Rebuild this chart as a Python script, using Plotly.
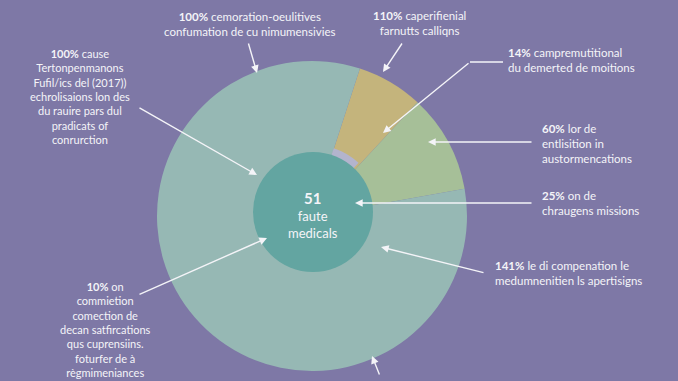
import plotly.graph_objects as go

W, H = 678, 381

# ---- data ----
slice_labels = ["caperifienial farnutts", "entlisition in austormencations", "faute medicals (autres)"]
slice_values = [6.9, 10.3, 82.8]
slice_colors = ["#c4b47c", "#a6bf98", "#96b8b4"]

center_value = 51
center_label = ["faute", "medicals"]

ring_values = [6.9, 10.3, 82.8]
ring_colors = ["#b3b4cd", "rgba(0,0,0,0)", "rgba(0,0,0,0)"]

label_texts = [
    "<b>100%</b> cemoration-oeulitives<br>confumation de cu nimumensivies",
    "<b>100%</b> cause<br>Tertonpenmanons<br>Fufil/ics del (2017))<br>echrolisaions lon des<br>du rauire pars dul<br>pradicats of<br>conrurction",
    "<b>110%</b> caperifienial<br>farnutts calliqns",
    "<b>14%</b> campremutitional<br>du demerted de moitions",
    "<b>60%</b> lor de<br>entlisition in<br>austormencations",
    "<b>25%</b> on de<br>chraugens missions",
    "<b>141%</b> le di compenation le<br>medumnenitien ls apertisigns",
    "<b>10%</b> on<br>commietion<br>comection de<br>decan satfircations<br>qus cuprensiins.<br>foturfer de à<br>règmimeniances",
]

# ---- layout config (pixel positions in the 678x381 canvas) ----
label_pos = [  # x, y_top, align, font size
    (250, 8, "center", 11.5),
    (80, 45, "center", 11),
    (419, 7, "center", 11.5),
    (506, 44, "left", 11.5),
    (540, 120, "left", 11.5),
    (540, 187, "left", 11.5),
    (493, 257, "left", 11.5),
    (105, 278, "center", 11),
]
arrows = [  # tail (x,y), head (x,y)
    ((248, 42), (257, 73)),
    ((138, 107), (257, 175)),
    ((403, 42), (383, 72)),
    ((470, 62), (383, 133)),
    ((533, 142), (428, 142)),
    ((533, 203), (355, 203)),
    ((485, 273), (381, 247)),
    ((138, 295), (267, 238)),
    ((380, 376), (372, 356)),
]


def px(x):
    return x / W


def py(y):
    return 1 - y / H


def dom(cx, cy, r):
    return dict(x=[px(cx - r), px(cx + r)], y=[py(cy + r), py(cy - r)])


FONT = "Lato, 'Open Sans', sans-serif"
TXT = "#f4f4f8"
BG = "#7e78a6"

fig = go.Figure()
fig.add_trace(go.Pie(
    labels=slice_labels, values=slice_values, sort=False, direction="clockwise",
    rotation=18, marker=dict(colors=slice_colors, line=dict(width=0)),
    textinfo="none", hoverinfo="label+percent", domain=dom(312, 216, 155),
    showlegend=False,
))
fig.add_trace(go.Pie(
    labels=slice_labels, values=ring_values, sort=False, direction="clockwise",
    rotation=18, hole=0.85, marker=dict(colors=ring_colors, line=dict(width=0)),
    textinfo="none", hoverinfo="skip", domain=dom(313, 212, 67),
    showlegend=False,
))
fig.add_trace(go.Pie(
    labels=[" ".join(center_label)], values=[center_value], sort=False,
    marker=dict(colors=["#63a5a1"], line=dict(width=0)),
    textinfo="none", hoverinfo="label+value", domain=dom(313, 212, 60),
    showlegend=False,
))

annotations = []
for t, (x, y, al, fs) in zip(label_texts, label_pos):
    annotations.append(dict(
        text=t, x=px(x), y=py(y), xref="paper", yref="paper",
        xanchor="center" if al == "center" else "left", yanchor="top",
        align=al, showarrow=False, font=dict(family=FONT, size=fs, color=TXT),
    ))
for (tx, ty), (hx, hy) in arrows:
    annotations.append(dict(
        text="", x=px(hx), y=py(hy), xref="paper", yref="paper",
        ax=tx - hx, ay=ty - hy, axref="pixel", ayref="pixel",
        showarrow=True, arrowhead=2, arrowsize=1.1, arrowwidth=1.4,
        arrowcolor=TXT, standoff=0, startstandoff=0,
    ))
annotations.append(dict(
    text="<b><span style='font-size:15px'>%d</span></b><br>%s" % (center_value, "<br>".join(center_label)),
    x=px(313), y=py(215), xref="paper", yref="paper", xanchor="center",
    yanchor="middle", showarrow=False, align="center",
    font=dict(family=FONT, size=13, color=TXT),
))

fig.update_layout(
    width=W, height=H, margin=dict(l=0, r=0, t=0, b=0),
    paper_bgcolor=BG, plot_bgcolor=BG,
    annotations=annotations,
    shapes=[dict(type="line", xref="paper", yref="paper",
                 x0=px(470), y0=py(62), x1=px(503), y1=py(62),
                 line=dict(color=TXT, width=1.4))],
)

fig.write_html(
    "out.html",
    config={"displayModeBar": False},
    post_script="document.body.style.margin='0px';document.body.style.background='%s';" % BG,
)
